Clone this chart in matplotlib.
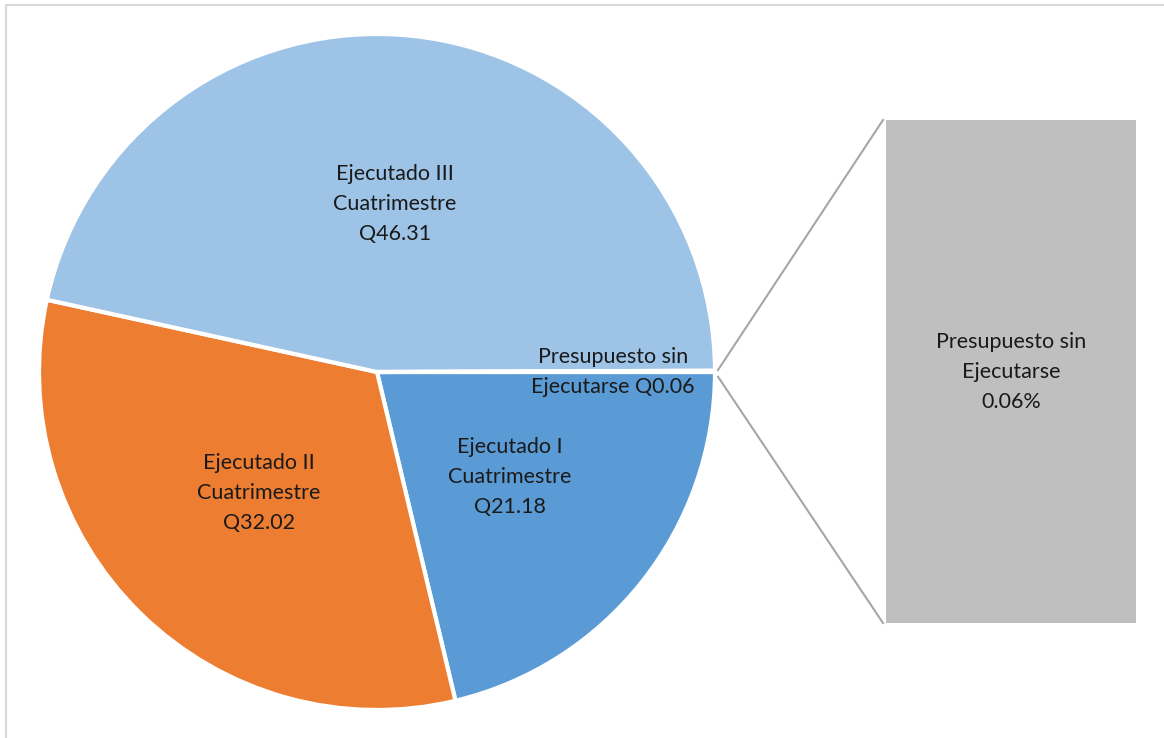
import numpy as np
import matplotlib.pyplot as plt

labels = ['Ejecutado I\nCuatrimestre', 'Ejecutado II\nCuatrimestre',
          'Ejecutado III\nCuatrimestre', 'Presupuesto sin\nEjecutarse']
values = [21.18, 32.02, 46.31, 0.06]
colors = ['#5B9BD5', '#ED7D31', '#9DC3E6', '#9DC3E6']
other_pct = 0.06

W, H = 1164, 738
fig = plt.figure(figsize=(W / 100, H / 100), dpi=100)
ax = fig.add_axes([0, 0, 1, 1])

plt.rcParams['font.family'] = ['Lato', 'DejaVu Sans']
fs = 15.5
ls = 1.62
tc = '#1a1a1a'

cx, cy, r = 377, 366, 338
wedges, _ = ax.pie(values, colors=colors, startangle=0, counterclock=False,
                   center=(cx, cy), radius=r, frame=True,
                   wedgeprops=dict(edgecolor='white', linewidth=3))
ax.set_xlim(0, W)
ax.set_ylim(0, H)
ax.set_aspect('equal')
ax.axis('off')

# frame of chart area
ax.plot([6, 6, W + 5], [-5, H - 5, H - 5], color='#d9d9d9', lw=1.5)

for w, lab, v in zip(wedges[:3], labels[:3], values[:3]):
    mid = np.deg2rad((w.theta1 + w.theta2) / 2)
    tx = cx + 0.5 * r * np.cos(mid)
    ty = cy + 0.5 * r * np.sin(mid)
    ax.text(tx, ty, f'{lab}\nQ{v:.2f}', ha='center', va='center',
            fontsize=fs, color=tc, linespacing=ls)

ax.text(613, cy, f'Presupuesto sin\nEjecutarse Q{values[3]:.2f}',
        ha='center', va='center', fontsize=fs, color=tc, linespacing=ls)

# bar of the "other" slice
bx, bw, btop, bbot = 1011, 250, H - 120, H - 623
ax.bar(bx, (btop - bbot) * other_pct / values[3], width=bw, bottom=bbot,
       color='#BFBFBF')
ax.text(bx, cy, f'Presupuesto sin\nEjecutarse\n{other_pct:.2f}%',
        ha='center', va='center', fontsize=fs, color=tc, linespacing=ls)

# connector lines
w4 = wedges[3]
for ang, yb in [(w4.theta1, btop), (w4.theta2, bbot)]:
    sx = cx + (r + 3) * np.cos(np.deg2rad(ang))
    sy = cy + (r + 3) * np.sin(np.deg2rad(ang)) + (2 if yb == btop else -6)
    ax.plot([sx, bx - bw / 2 - 3], [sy, yb], color='#A6A6A6', lw=1.5)

fig.savefig('out.png', dpi=100)
